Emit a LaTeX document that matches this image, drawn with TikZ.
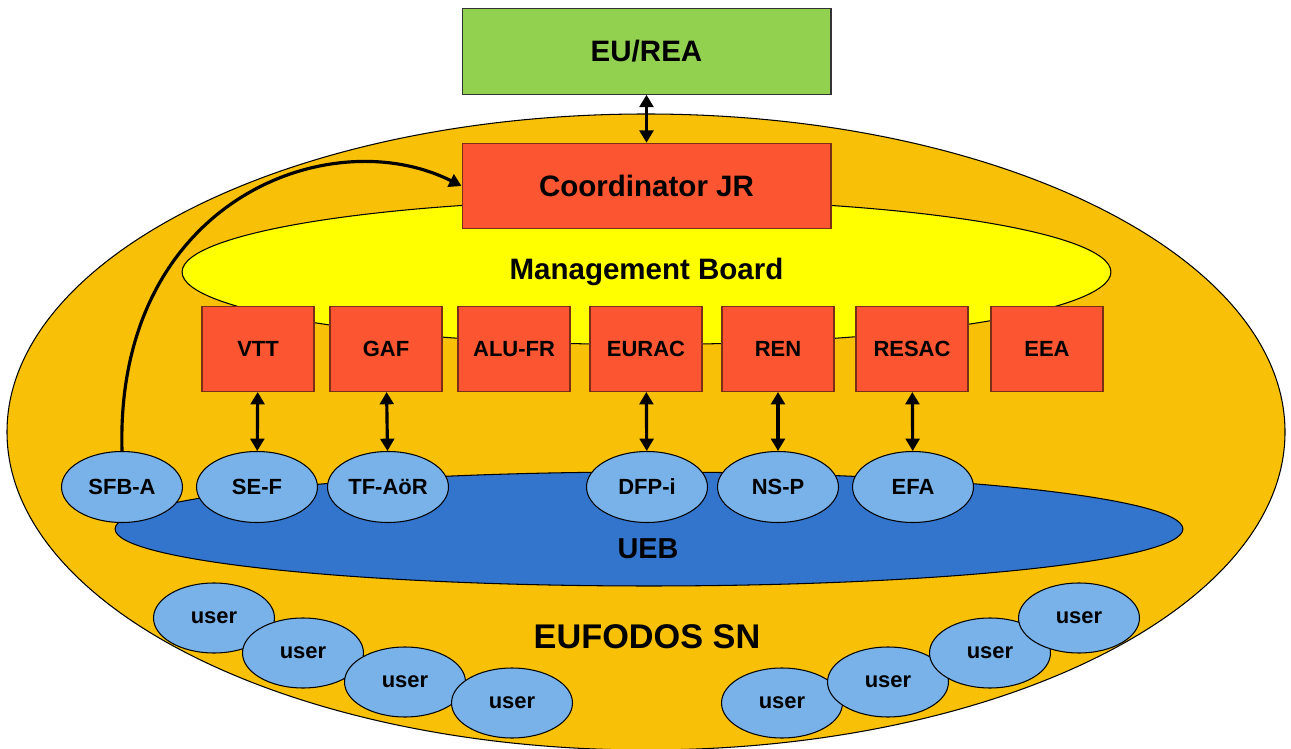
\documentclass[tikz,border=0pt]{standalone}
\usepackage{fontspec}
\setmainfont{Liberation Sans}
\usepackage{xcolor}
\usepackage{tikz}
\usetikzlibrary{shapes.geometric,arrows.meta}
\definecolor{snorange}{HTML}{F8C108}
\definecolor{boardyellow}{HTML}{FFFF00}
\definecolor{partnerred}{HTML}{FB5631}
\definecolor{partnerline}{HTML}{7A2E17}
\definecolor{eugreen}{HTML}{92D050}
\definecolor{uebblue}{HTML}{3375CC}
\definecolor{memberblue}{HTML}{78B2E8}

\tikzset{%
  bigbox/.style={draw=partnerline, rectangle, line width=0.6pt, minimum width=7.38cm, minimum height=1.71cm, font=\fontsize{16.8pt}{20pt}\selectfont\bfseries},%
  partner/.style={draw=partnerline, rectangle, line width=0.6pt, fill=partnerred, minimum width=2.24cm, minimum height=1.70cm, font=\fontsize{12.5pt}{15pt}\selectfont\bfseries},%
  member/.style={draw, ellipse, line width=0.6pt, fill=memberblue, inner sep=0pt, minimum width=2.42cm, minimum height=1.42cm, font=\fontsize{12.5pt}{15pt}\selectfont\bfseries},%
  user/.style={member, minimum height=1.40cm},%
  link/.style={line width=1.8pt, {Triangle[length=7pt,width=7.8pt]}-{Triangle[length=7pt,width=7.8pt]}},%
  feed/.style={line width=1.8pt, -{Triangle[length=7pt,width=7.8pt]}},%
}

\begin{document}
\begin{tikzpicture}[x=0.02cm, y=-0.02cm]%
\clip (0,0) rectangle (1291,749);%
% network and boards
\draw[fill=snorange, line width=0.6pt] (646,432) ellipse [x radius=639, y radius=318];%
\node[draw, ellipse, fill=boardyellow, line width=0.6pt, minimum width=18.58cm, minimum height=2.90cm, font=\fontsize{16.8pt}{20pt}\selectfont\bfseries] (board) at (646.5,272) {Management Board};%
\node[bigbox, fill=partnerred] (coord) at (646.5,186) {Coordinator JR};%
\node[bigbox, draw=black!80, fill=eugreen] (eurea) at (646.5,51.5) {EU/REA};%
% partners
\node[partner] (vtt) at (258,349) {VTT};%
\node[partner] (gaf) at (386,349) {GAF};%
\node[partner] (alufr) at (514,349) {ALU-FR};%
\node[partner] (eurac) at (646,349) {EURAC};%
\node[partner] (ren) at (778,349) {REN};%
\node[partner] (resac) at (912,349) {RESAC};%
\node[partner] (eea) at (1047,349) {EEA};%
% user board
\node[draw, ellipse, fill=uebblue, line width=0.6pt, minimum width=21.36cm, minimum height=2.28cm] (ueb) at (649,529) {};%
\node[font=\fontsize{16.4pt}{20pt}\selectfont\bfseries] (ueblabel) at (648,549) {UEB};%
\node[member] (sfba) at (122,487) {SFB-A};%
\node[member] (sef) at (257,487) {SE-F};%
\node[member] (tfaoer) at (388,487) {TF-AöR};%
\node[member] (dfpi) at (647,487) {DFP-i};%
\node[member] (nsp) at (778,487) {NS-P};%
\node[member] (efa) at (913,487) {EFA};%
% users
\node[user] (userA) at (214,618) {user};%
\node[user] (userB) at (303,653) {user};%
\node[user] (userC) at (405,682) {user};%
\node[user] (userD) at (512,703) {user};%
\node[user] (userE) at (782,703) {user};%
\node[user] (userF) at (888,682) {user};%
\node[user] (userG) at (990,653) {user};%
\node[user] (userH) at (1079,618) {user};%
\node[font=\fontsize{19.5pt}{23pt}\selectfont\bfseries] (snlabel) at (647,637) {EUFODOS SN};%
% links
\draw[link] (eurea) -- (coord);%
\draw[link] (vtt) -- (sef);%
\draw[link] (gaf) -- (tfaoer);%
\draw[link] (eurac) -- (dfpi);%
\draw[link] (ren) -- (nsp);%
\draw[link] (resac) -- (efa);%
\draw[feed] (sfba.north) .. controls (115,200) and (330,120) .. (coord.west);%
\end{tikzpicture}
\end{document}
